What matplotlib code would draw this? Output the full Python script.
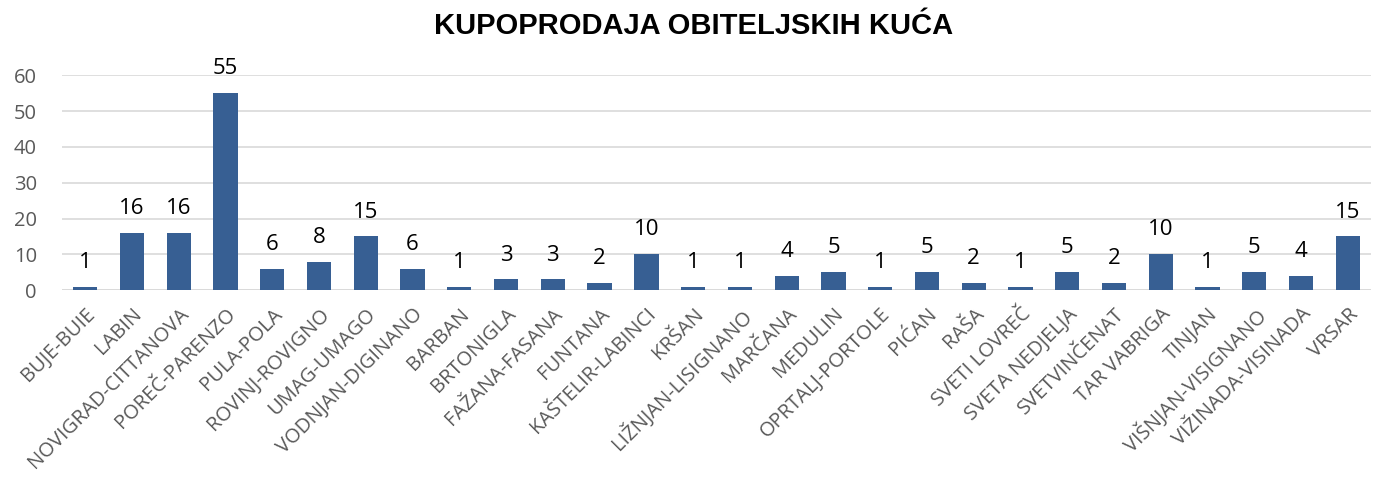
import matplotlib
matplotlib.use("Agg")
import matplotlib.pyplot as plt
import numpy as np

categories = ["BUJE-BUIE", "LABIN", "NOVIGRAD-CITTANOVA", "POREČ-PARENZO", "PULA-POLA",
              "ROVINJ-ROVIGNO", "UMAG-UMAGO", "VODNJAN-DIGINANO", "BARBAN", "BRTONIGLA",
              "FAŽANA-FASANA", "FUNTANA", "KAŠTELIR-LABINCI", "KRŠAN", "LIŽNJAN-LISIGNANO",
              "MARČANA", "MEDULIN", "OPRTALJ-PORTOLE", "PIĆAN", "RAŠA", "SVETI LOVREČ",
              "SVETA NEDJELJA", "SVETVINČENAT", "TAR VABRIGA", "TINJAN", "VIŠNJAN-VISIGNANO",
              "VIŽINADA-VISINADA", "VRSAR"]
values = [1, 16, 16, 55, 6, 8, 15, 6, 1, 3, 3, 2, 10, 1, 1, 4, 5, 1, 5, 2, 1, 5, 2, 10, 1, 5, 4, 15]
yticks = [0, 10, 20, 30, 40, 50, 60]
title = "KUPOPRODAJA OBITELJSKIH KUĆA"

fig = plt.figure(figsize=(13.74, 4.82), dpi=100)
ax = fig.add_axes([0.045, 0.398, 0.953, 0.446])

x = np.arange(len(categories))
ax.bar(x, values, width=0.52, color="#375F93", zorder=3)
ax.set_xlim(-0.5, len(categories) - 0.5)
ax.set_ylim(0, 60)
ax.set_yticks(yticks)
ax.yaxis.grid(True, color="#D9D9D9", linewidth=1.2, zorder=0)
for s in ax.spines.values():
    s.set_visible(False)
ax.axhline(0, color="#D9D9D9", linewidth=1.2, zorder=1)
ax.tick_params(axis="both", length=0, colors="#595959", labelsize=14.5)
for lab in ax.get_yticklabels():
    lab.set_fontfamily("Open Sans")
ax.tick_params(axis="y", pad=18)

ax.set_xticks(x)
ax.set_xticklabels(categories, rotation=45, ha="right", va="top",
                   rotation_mode="anchor", fontfamily="Open Sans", fontsize=14.5, color="#595959")
ax.tick_params(axis="x", pad=10)

for xi, v in zip(x, values):
    ax.annotate(str(v), (xi, v), xytext=(0, 10), textcoords="offset points",
                ha="center", va="bottom", fontsize=16, fontfamily="Open Sans", color="black",
                annotation_clip=False)

fig.text(0.505, 0.946, title, ha="center", va="center", fontsize=21,
         fontweight="bold", fontfamily="Liberation Sans")

fig.savefig("out.png", dpi=100)
